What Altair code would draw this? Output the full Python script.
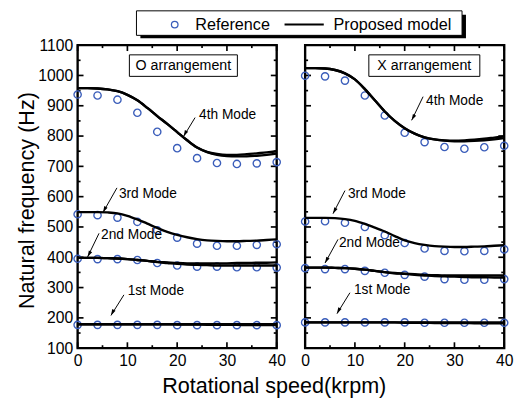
import altair as alt
import pandas as pd

# ---------------- data ----------------
speed_ref = [0, 4, 8, 12, 16, 20, 24, 28, 32, 36, 40]
speed_model = [0, 2, 4, 6, 8, 10, 12, 14, 16, 18, 20, 22, 24, 26, 28, 30, 32, 34, 36, 38, 40]

# O arrangement - reference points
O_ref_1st = [177, 177, 177, 177, 177, 176, 176, 176, 176, 176, 176]
O_ref_2nd = [395, 394, 394, 391, 381, 373, 369, 369, 367, 367, 366]
O_ref_3rd = [542, 539, 531, 517, 489, 465, 445, 438, 438, 441, 443]
O_ref_4th = [937, 934, 920, 877, 814, 760, 727, 711, 708, 710, 714]
# O arrangement - proposed model
O_mod_1st_a = [179, 179, 179, 179, 179, 179, 179, 179, 179, 179, 179, 179, 179, 179, 179, 179, 179, 179, 179, 179, 179]
O_mod_1st_b = [179, 179, 179, 179, 179, 179, 179, 179, 179, 179, 178, 178, 178, 177, 177, 177, 177, 176, 176, 176, 176]
O_mod_2nd_a = [398, 398, 398, 397, 396, 394, 391, 388, 385, 383, 381, 380, 380, 380, 380, 380, 381, 381, 382, 382, 383]
O_mod_2nd_b = [398, 398, 398, 397, 396, 394, 391, 388, 384, 381, 378, 376, 375, 374, 373, 373, 373, 373, 373, 373, 373]
O_mod_3rd = [549, 549, 549, 548, 545, 537, 525, 511, 497, 484, 474, 466, 460, 456, 454, 453, 453, 454, 455, 457, 459]
O_mod_4th_a = [958, 958, 957, 954, 948, 936, 918, 893, 866, 840, 813, 786, 762, 747, 738, 734, 733, 733, 735, 738, 742]
O_mod_4th_b = [958, 958, 957, 954, 948, 936, 918, 893, 866, 840, 813, 786, 762, 748, 741, 738, 738, 740, 743, 746, 750]

# X arrangement - reference points
X_ref_1st = [185, 185, 185, 185, 185, 185, 184, 184, 184, 184, 184]
X_ref_2nd = [364, 361, 361, 355, 349, 342, 336, 328, 326, 326, 328]
X_ref_3rd = [518, 519, 514, 500, 473, 447, 429, 421, 420, 421, 426]
X_ref_4th = [999, 997, 983, 934, 868, 811, 780, 764, 758, 763, 768]
# X arrangement - proposed model
X_mod_1st_a = [185, 185, 185, 185, 185, 185, 185, 185, 185, 185, 185, 185, 185, 185, 185, 185, 185, 185, 185, 185, 185]
X_mod_1st_b = [185, 185, 185, 185, 185, 185, 185, 185, 185, 185, 184, 184, 184, 183, 183, 183, 183, 182, 182, 182, 182]
X_mod_2nd_a = [366, 366, 366, 365, 364, 362, 359, 355, 351, 348, 346, 344, 342, 341, 340, 340, 340, 340, 340, 340, 340]
X_mod_2nd_b = [366, 366, 366, 365, 364, 362, 359, 355, 351, 347, 345, 342, 340, 338, 337, 336, 335, 334, 334, 333, 333]
X_mod_3rd = [530, 530, 530, 529, 526, 520, 510, 498, 485, 470, 456, 447, 441, 437, 435, 434, 434, 435, 436, 438, 440]
X_mod_4th_a = [1024, 1024, 1023, 1018, 1007, 987, 955, 918, 881, 850, 826, 808, 796, 789, 785, 783, 783, 784, 786, 789, 793]
X_mod_4th_b = [1024, 1024, 1023, 1018, 1007, 987, 955, 918, 881, 850, 826, 808, 796, 789, 786, 785, 786, 788, 791, 795, 799]

# annotations
mode_labels = ["4th Mode", "3rd Mode", "2nd Mode", "1st Mode"]
O_label_x = [24.2, 8.1, 4.5, 9.85]
O_label_y = [868, 610, 473, 290]
O_tail_x = [23.6, 7.9, 4.3, 9.3]
O_tail_y = [861, 629, 479, 276]
O_head_x = [21.3, 5.1, 2.0, 6.7]
O_head_y = [799, 548, 401, 208]

X_label_x = [24.1, 8.4, 6.6, 9.6]
X_label_y = [917, 610, 446, 293]
X_tail_x = [23.7, 8.0, 6.6, 9.0]
X_tail_y = [930, 620, 459, 283]
X_head_x = [21.4, 5.6, 4.0, 6.4]
X_head_y = [852, 544, 381, 214]

panel_titles = ["O arrangement", "X arrangement"]
O_box_x = [10.4, 32.1]
X_box_x = [12.8, 35.1]
box_y = [997, 1068]

legend_labels = ["Reference", "Proposed model"]

x_major = [0, 10, 20, 30, 40]
x_minor = [5, 15, 25, 35]
y_major = [100, 200, 300, 400, 500, 600, 700, 800, 900, 1000, 1100]
y_minor = [150, 250, 350, 450, 550, 650, 750, 850, 950, 1050]

# ---------------- styling ----------------
W, H = 203, 309
FONT = "Liberation Sans"
BLUE = "#3A5DBA"
x_scale = alt.Scale(domain=[0, 40], nice=False, zero=False)
y_scale = alt.Scale(domain=[100, 1100], nice=False, zero=False)


def make_axes(left):
    common = dict(ticks=False, domain=False, grid=False, labelFlush=False, format="d",
                  labelFont=FONT, labelFontSize=16, labelColor="black", labelPadding=5)
    if left:
        xa = alt.Axis(values=x_major, **common,
                      title="Rotational speed(krpm)", titleFont=FONT, titleFontSize=22,
                      titleFontWeight="normal", titleColor="black", titleX=200, titleY=45,
                      titleAlign="center", titleBaseline="alphabetic")
        ya = alt.Axis(values=y_major, **common,
                      title="Natural frequency (Hz)", titleFont=FONT, titleFontSize=22,
                      titleFontWeight="normal", titleColor="black", titleX=-45, titleY=158,
                      titleAlign="center", titleBaseline="alphabetic", titleAngle=270)
    else:
        xa = alt.Axis(values=x_major, **common, title=None)
        ya = alt.Axis(values=y_major, ticks=False, domain=False, grid=False,
                      labels=False, title=None)
    return xa, ya


def lines_df(curves):
    rows = []
    for name, vals in curves.items():
        for s, f in zip(speed_model, vals):
            rows.append({"speed": s, "freq": f, "curve": name})
    return pd.DataFrame(rows)


def refs_df(curves):
    rows = []
    for name, vals in curves.items():
        for s, f in zip(speed_ref, vals):
            rows.append({"speed": s, "freq": f, "curve": name})
    return pd.DataFrame(rows)


def panel(left, model, ref, lab_x, lab_y, tail_x, tail_y, head_x, head_y, box_x, title):
    xa, ya = make_axes(left)

    def X(field="speed"):
        return alt.X(f"{field}:Q", scale=x_scale, axis=xa)

    def Y(field="freq"):
        return alt.Y(f"{field}:Q", scale=y_scale, axis=ya)

    layers = []
    # inward ticks on all four sides
    ymaj = pd.DataFrame({"freq": y_major})
    ymin = pd.DataFrame({"freq": y_minor})
    xmaj = pd.DataFrame({"speed": x_major})
    xmin = pd.DataFrame({"speed": x_minor})
    tk = dict(color="black", strokeWidth=1.7)
    layers += [
        alt.Chart(ymaj).mark_rule(**tk).encode(y=Y(), x=alt.value(0), x2=alt.value(6)),
        alt.Chart(ymaj).mark_rule(**tk).encode(y=Y(), x=alt.value(W - 6), x2=alt.value(W)),
        alt.Chart(ymin).mark_rule(**tk).encode(y=Y(), x=alt.value(0), x2=alt.value(3)),
        alt.Chart(ymin).mark_rule(**tk).encode(y=Y(), x=alt.value(W - 3), x2=alt.value(W)),
        alt.Chart(xmaj).mark_rule(**tk).encode(x=X(), y=alt.value(H - 6), y2=alt.value(H)),
        alt.Chart(xmaj).mark_rule(**tk).encode(x=X(), y=alt.value(0), y2=alt.value(6)),
        alt.Chart(xmin).mark_rule(**tk).encode(x=X(), y=alt.value(H - 3), y2=alt.value(H)),
        alt.Chart(xmin).mark_rule(**tk).encode(x=X(), y=alt.value(0), y2=alt.value(3)),
    ]
    # reference points
    layers.append(
        alt.Chart(refs_df(ref)).mark_point(shape="circle", filled=False, color=BLUE,
                                            size=55, strokeWidth=1.4, opacity=1)
        .encode(x=X(), y=Y(), detail="curve:N")
    )
    # model lines
    layers.append(
        alt.Chart(lines_df(model)).mark_line(color="black", strokeWidth=2.4, interpolate="monotone")
        .encode(x=X(), y=Y(), detail="curve:N")
    )
    # annotation arrows and labels
    ann = pd.DataFrame({"label": mode_labels, "lx": lab_x, "ly": lab_y,
                        "speed": tail_x, "freq": tail_y, "hx": head_x, "hy": head_y})
    layers.append(
        alt.Chart(ann).mark_rule(color="black", strokeWidth=1)
        .encode(x=X(), y=Y(), x2="hx:Q", y2="hy:Q")
    )
    layers.append(
        alt.Chart(ann).mark_point(shape="M0,0L0.3,1L-0.3,1Z", filled=True, color="black",
                                  size=160, angle=208, strokeWidth=0, opacity=1)
        .encode(x=X("hx"), y=Y("hy"))
    )
    layers.append(
        alt.Chart(ann).mark_text(font=FONT, fontSize=14, align="left", baseline="middle",
                                 color="black", dx=1)
        .encode(x=X("lx"), y=Y("ly"), text="label:N")
    )
    # panel title box
    box = pd.DataFrame({"speed": [box_x[0]], "x2": [box_x[1]], "freq": [box_y[0]], "y2": [box_y[1]],
                        "cx": [(box_x[0] + box_x[1]) / 2], "cy": [(box_y[0] + box_y[1]) / 2],
                        "t": [title]})
    layers.append(
        alt.Chart(box).mark_rect(fill="white", stroke="black", strokeWidth=1)
        .encode(x=X(), x2="x2:Q", y=Y(), y2="y2:Q")
    )
    layers.append(
        alt.Chart(box).mark_text(font=FONT, fontSize=14.5, align="center", baseline="middle",
                                 color="black")
        .encode(x=X("cx"), y=Y("cy"), text="t:N")
    )

    if left:
        # legend box (with drop shadow) above both panels
        one = pd.DataFrame({"k": [0]})
        leg = pd.DataFrame({"t": legend_labels})
        layers += [
            alt.Chart(one).mark_rect(fill="black").encode(
                x=alt.value(64), x2=alt.value(396), y=alt.value(-31), y2=alt.value(-7)),
            alt.Chart(one).mark_rect(fill="white", stroke="black", strokeWidth=1).encode(
                x=alt.value(60), x2=alt.value(392), y=alt.value(-35), y2=alt.value(-10)),
            alt.Chart(one).mark_point(shape="circle", filled=False, color=BLUE, size=45,
                                      strokeWidth=1.3, opacity=1).encode(
                x=alt.value(99), y=alt.value(-21)),
            alt.Chart(one).mark_rule(color="black", strokeWidth=2).encode(
                x=alt.value(211), x2=alt.value(251), y=alt.value(-21)),
            alt.Chart(leg).transform_filter("datum.t == 'Reference'").mark_text(
                font=FONT, fontSize=16.5, align="left", baseline="alphabetic", color="black").encode(
                x=alt.value(120), y=alt.value(-15), text="t:N"),
            alt.Chart(leg).transform_filter("datum.t == 'Proposed model'").mark_text(
                font=FONT, fontSize=16.5, align="left", baseline="alphabetic", color="black").encode(
                x=alt.value(261), y=alt.value(-15), text="t:N"),
        ]

    return alt.layer(*layers).properties(width=W, height=H)


left = panel(True,
             {"1a": O_mod_1st_a, "1b": O_mod_1st_b, "2a": O_mod_2nd_a, "2b": O_mod_2nd_b,
              "3": O_mod_3rd, "4a": O_mod_4th_a, "4b": O_mod_4th_b},
             {"1": O_ref_1st, "2": O_ref_2nd, "3": O_ref_3rd, "4": O_ref_4th},
             O_label_x, O_label_y, O_tail_x, O_tail_y, O_head_x, O_head_y, O_box_x, panel_titles[0])
right = panel(False,
              {"1a": X_mod_1st_a, "1b": X_mod_1st_b, "2a": X_mod_2nd_a, "2b": X_mod_2nd_b,
               "3": X_mod_3rd, "4a": X_mod_4th_a, "4b": X_mod_4th_b},
              {"1": X_ref_1st, "2": X_ref_2nd, "3": X_ref_3rd, "4": X_ref_4th},
              X_label_x, X_label_y, X_tail_x, X_tail_y, X_head_x, X_head_y, X_box_x, panel_titles[1])

chart = (
    alt.hconcat(left, right, spacing=29, bounds="flush")
    .properties(padding={"left": 6, "top": -3, "right": 0, "bottom": 0}, background="white")
    .configure_view(stroke="black", strokeWidth=2.4)
)

chart.save("out.html", embed_options={"renderer": "svg", "actions": False})
